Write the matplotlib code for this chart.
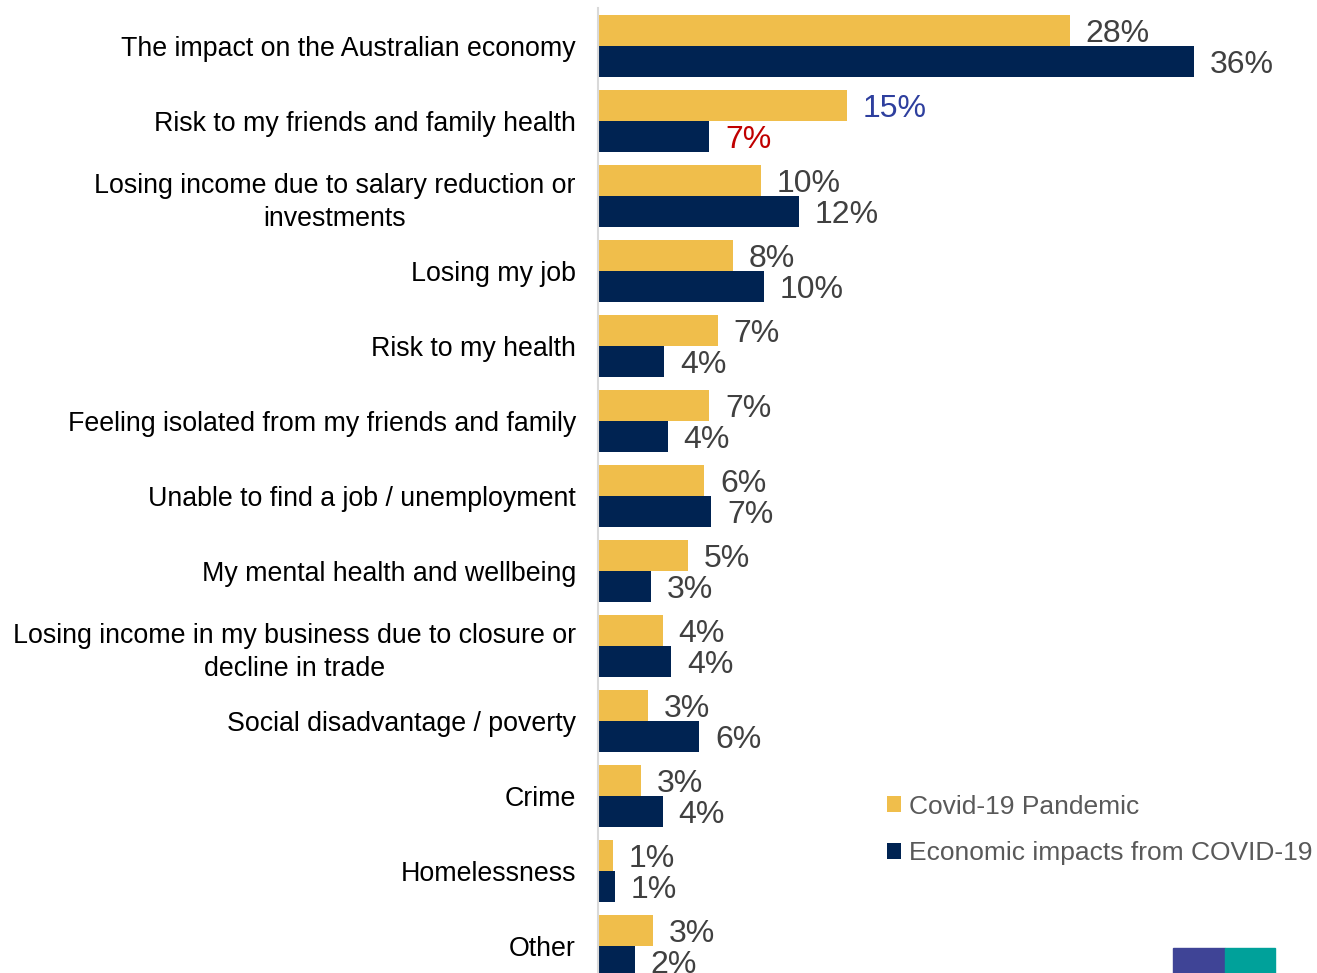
import matplotlib.pyplot as plt
from matplotlib.patches import Rectangle

plt.rcParams['font.family'] = ['Liberation Sans', 'DejaVu Sans']

# Categories, top to bottom
categories = [
    "The impact on the Australian economy",
    "Risk to my friends and family health",
    "Losing income due to salary reduction or\ninvestments",
    "Losing my job",
    "Risk to my health",
    "Feeling isolated from my friends and family",
    "Unable to find a job / unemployment",
    "My mental health and wellbeing",
    "Losing income in my business due to closure or\ndecline in trade",
    "Social disadvantage / poverty",
    "Crime",
    "Homelessness",
    "Other",
]

# Series values (%)
covid_pandemic = [28.4, 15.0, 9.8, 8.1, 7.2, 6.7, 6.4, 5.4, 3.9, 3.0, 2.6, 0.9, 3.3]
economic_impacts = [35.9, 6.7, 12.1, 10.0, 4.0, 4.2, 6.8, 3.2, 4.4, 6.1, 3.9, 1.0, 2.2]

series_names = ["Covid-19 Pandemic", "Economic impacts from COVID-19"]

yellow = "#F0BE4B"
navy = "#002352"
label_gray = "#404040"

fig = plt.figure(figsize=(13.17, 9.73), dpi=100)
ax = fig.add_axes([598 / 1317, 0, 719 / 1317, 965 / 973])

h = 0.41
pos = list(range(len(categories)))
b1 = ax.barh([p - h / 2 for p in pos], covid_pandemic, height=h, color=yellow,
             label=series_names[0])
b2 = ax.barh([p + h / 2 for p in pos], economic_impacts, height=h, color=navy,
             label=series_names[1])

# Value labels (two of them are highlighted in the original)
special = {(0, 1): "#2E3F9E", (1, 1): "#C00000"}
for s, bars in enumerate([b1, b2]):
    vals = [covid_pandemic, economic_impacts][s]
    for i, (bar, v) in enumerate(zip(bars, vals)):
        col = special.get((s, i), label_gray)
        ax.annotate(f"{round(v)}%", (bar.get_width(), bar.get_y() + bar.get_height() / 2),
                    xytext=(11.5, -2.5), textcoords="offset points",
                    va="center", ha="left", fontsize=23, color=col)

ax.set_xlim(0, 43.3)
ax.set_ylim(12.36, -0.507)
ax.set_yticks(pos)
ax.set_yticklabels(categories, fontsize=19.3, color="black", multialignment="center",
                   linespacing=1.35)
ax.tick_params(axis="y", length=0, pad=16)
ax.set_xticks([])
for side in ["top", "right", "bottom"]:
    ax.spines[side].set_visible(False)
ax.spines["left"].set_color("#D9D9D9")
ax.spines["left"].set_linewidth(1.5)

leg = ax.legend(loc="upper left", bbox_to_anchor=(278 / 719, (965 - 776) / 965),
                frameon=False, fontsize=19, handlelength=0.55, handleheight=0.55,
                handletextpad=0.3, labelspacing=0.85, borderaxespad=0)
for t in leg.get_texts():
    t.set_color("#595959")

# Partial logo in the bottom-right corner
fig.patches.append(Rectangle((1173 / 1317, 0), 52 / 1317, 25 / 973,
                             transform=fig.transFigure, color="#3F4496"))
fig.patches.append(Rectangle((1225 / 1317, 0), 50 / 1317, 25 / 973,
                             transform=fig.transFigure, color="#00A19A"))

fig.savefig("out.png", dpi=100)
